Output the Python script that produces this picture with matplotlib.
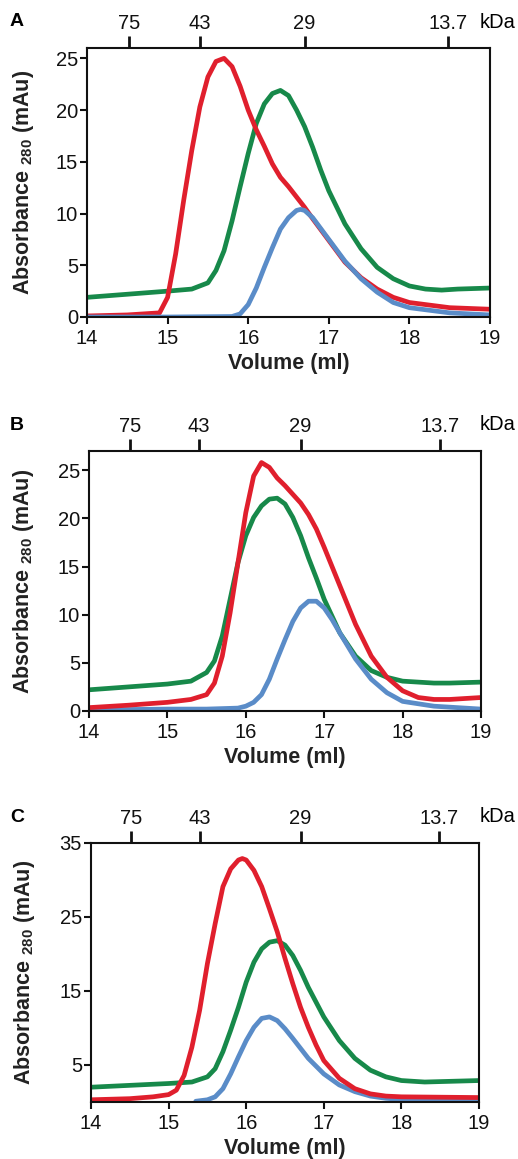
import numpy as np
import matplotlib
matplotlib.use("Agg")
import matplotlib.pyplot as plt

plt.rcParams['font.family'] = ['Liberation Sans', 'DejaVu Sans']
plt.rcParams['mathtext.fontset'] = 'custom'
plt.rcParams['mathtext.rm'] = 'Liberation Sans'
plt.rcParams['mathtext.bf'] = 'Liberation Sans:bold'

# marcatori di peso molecolare (asse superiore)
kda_pos = [14.52, 15.40, 16.70, 18.48]
kda_labels = ['75', '43', '29', '13.7']

# ---- pannello A ----
a_red_x = [14.0, 14.5, 14.9, 15.0, 15.1, 15.2, 15.3, 15.4, 15.5, 15.6, 15.7, 15.8, 15.9, 16.0,
           16.1, 16.2, 16.3, 16.4, 16.5, 16.6, 16.7, 16.8, 17.0, 17.2, 17.4, 17.6, 17.8, 18.0,
           18.5, 19.0]
a_red_y = [0.1, 0.2, 0.4, 1.9, 6.1, 11.3, 16.1, 20.3, 23.2, 24.7, 25.0, 24.2, 22.3, 20.0,
           18.1, 16.5, 14.8, 13.5, 12.6, 11.6, 10.6, 9.5, 7.4, 5.3, 3.8, 2.7, 1.9, 1.4,
           0.9, 0.75]
a_green_x = [14.0, 14.5, 15.0, 15.3, 15.5, 15.6, 15.7, 15.8, 15.9, 16.0, 16.1, 16.2, 16.3, 16.4,
             16.5, 16.6, 16.7, 16.8, 16.9, 17.0, 17.2, 17.4, 17.6, 17.8, 18.0, 18.2, 18.4, 18.6,
             19.0]
a_green_y = [1.9, 2.2, 2.5, 2.7, 3.3, 4.5, 6.4, 9.3, 12.6, 15.8, 18.7, 20.6, 21.6, 21.9,
             21.4, 20.0, 18.4, 16.4, 14.2, 12.2, 9.0, 6.6, 4.8, 3.7, 3.0, 2.7, 2.6, 2.7,
             2.8]
a_blue_x = [14.0, 15.0, 15.8, 15.9, 16.0, 16.1, 16.2, 16.3, 16.4, 16.5, 16.6, 16.65, 16.7, 16.8,
            17.0, 17.2, 17.4, 17.6, 17.8, 18.0, 18.5, 19.0]
a_blue_y = [0.0, 0.0, 0.05, 0.3, 1.2, 2.8, 4.8, 6.7, 8.5, 9.6, 10.3, 10.4, 10.3, 9.6,
            7.5, 5.4, 3.7, 2.4, 1.4, 0.9, 0.4, 0.2]

# ---- pannello B ----
b_red_x = [14.0, 14.5, 15.0, 15.3, 15.5, 15.6, 15.7, 15.8, 15.9, 16.0, 16.1, 16.2, 16.3, 16.4,
           16.5, 16.6, 16.7, 16.8, 16.9, 17.0, 17.2, 17.4, 17.6, 17.8, 18.0, 18.2, 18.4, 18.6,
           19.0]
b_red_y = [0.35, 0.6, 0.9, 1.2, 1.7, 2.9, 5.7, 10.2, 15.4, 20.6, 24.4, 25.8, 25.3, 24.2,
           23.4, 22.5, 21.6, 20.4, 18.9, 17.0, 13.0, 9.0, 5.7, 3.5, 2.1, 1.4, 1.2, 1.2,
           1.4]
b_green_x = [14.0, 14.5, 15.0, 15.3, 15.5, 15.6, 15.7, 15.8, 15.9, 16.0, 16.1, 16.2, 16.3, 16.4,
             16.5, 16.6, 16.7, 16.8, 16.9, 17.0, 17.2, 17.4, 17.6, 17.8, 18.0, 18.4, 18.6, 19.0]
b_green_y = [2.2, 2.5, 2.8, 3.1, 4.0, 5.2, 7.8, 11.6, 15.4, 18.2, 20.1, 21.3, 22.0, 22.1,
             21.5, 20.1, 18.2, 15.9, 13.8, 11.6, 8.1, 5.7, 4.2, 3.5, 3.1, 2.9, 2.9, 3.0]
b_blue_x = [14.0, 15.0, 15.5, 15.9, 16.0, 16.1, 16.2, 16.3, 16.4, 16.5, 16.6, 16.7, 16.8, 16.9,
            17.0, 17.1, 17.2, 17.4, 17.6, 17.8, 18.0, 18.4, 19.0]
b_blue_y = [0.1, 0.2, 0.2, 0.3, 0.5, 0.9, 1.7, 3.3, 5.4, 7.4, 9.3, 10.7, 11.4, 11.4,
            10.7, 9.5, 8.1, 5.4, 3.3, 1.9, 1.0, 0.5, 0.2]

# ---- pannello C ----
c_red_x = [14.0, 14.5, 14.8, 15.0, 15.1, 15.2, 15.3, 15.4, 15.5, 15.6, 15.7, 15.8, 15.9, 15.95,
           16.0, 16.1, 16.2, 16.3, 16.4, 16.5, 16.6, 16.7, 16.8, 16.9, 17.0, 17.2, 17.4, 17.6,
           17.8, 18.0, 19.0]
c_red_y = [0.3, 0.45, 0.7, 1.0, 1.6, 3.6, 7.4, 12.4, 18.7, 24.1, 29.1, 31.5, 32.7, 32.9,
           32.7, 31.3, 29.1, 26.1, 23.0, 19.4, 16.0, 12.8, 10.1, 7.7, 5.6, 3.2, 1.8, 1.1,
           0.8, 0.7, 0.6]
c_green_x = [14.0, 14.5, 15.0, 15.3, 15.5, 15.6, 15.7, 15.8, 15.9, 16.0, 16.1, 16.2, 16.3, 16.4,
             16.5, 16.6, 16.7, 16.8, 17.0, 17.2, 17.4, 17.6, 17.8, 18.0, 18.3, 19.0]
c_green_y = [2.0, 2.25, 2.5, 2.7, 3.4, 4.5, 6.8, 9.7, 12.8, 16.2, 18.9, 20.7, 21.6, 21.8,
             21.2, 19.8, 17.8, 15.5, 11.5, 8.3, 5.9, 4.3, 3.4, 2.9, 2.7, 2.9]
c_blue_x = [15.35, 15.5, 15.6, 15.7, 15.8, 15.9, 16.0, 16.1, 16.2, 16.3, 16.4, 16.5, 16.6, 16.8,
            17.0, 17.2, 17.4, 17.6, 17.8, 18.0, 18.5, 19.0]
c_blue_y = [0.1, 0.3, 0.7, 1.8, 3.8, 6.1, 8.3, 10.1, 11.3, 11.5, 11.0, 9.9, 8.6, 5.9,
            3.8, 2.3, 1.4, 0.8, 0.5, 0.35, 0.2, 0.1]

RED = '#e01f2d'
GREEN = '#17894a'
BLUE = '#5a8cc8'

W, H = 518, 1159
fig = plt.figure(figsize=(W / 100, H / 100), dpi=100)

# (sinistra, destra, alto, basso) in pixel
panels = [
    ('A', (87, 490, 48, 317), 26, [0, 5, 10, 15, 20, 25],
     [(a_green_x, a_green_y, GREEN), (a_red_x, a_red_y, RED), (a_blue_x, a_blue_y, BLUE)]),
    ('B', (89, 481, 451, 711), 27, [0, 5, 10, 15, 20, 25],
     [(b_green_x, b_green_y, GREEN), (b_blue_x, b_blue_y, BLUE), (b_red_x, b_red_y, RED)]),
    ('C', (91, 479, 843, 1102), 35, [5, 15, 25, 35],
     [(c_green_x, c_green_y, GREEN), (c_blue_x, c_blue_y, BLUE), (c_red_x, c_red_y, RED)]),
]

for letter, (l, r, t, b), ytop, yticks, series in panels:
    ax = fig.add_axes([l / W, 1 - b / H, (r - l) / W, (b - t) / H])
    for xs, ys, col in series:
        ax.plot(xs, ys, color=col, lw=3.4, solid_capstyle='round', solid_joinstyle='round')
    ax.set_xlim(14, 19)
    ax.set_ylim(0, ytop)
    ax.set_xticks([14, 15, 16, 17, 18, 19])
    ax.set_yticks(yticks)
    for s in ax.spines.values():
        s.set_linewidth(1.5)
        s.set_color('#111111')
    ax.tick_params(direction='out', length=5, width=1.5, labelsize=14.5, pad=1.5, colors='#111111')
    ax.tick_params(axis='x', pad=3.5)
    ax.set_xlabel('Volume (ml)', fontsize=15.5, fontweight='bold', color='#222222')
    ax.xaxis.set_label_coords(0.5, -(36 / (b - t)))
    ax.set_ylabel(r'Absorbance $\mathbf{_{280}}$ (mAu)', fontsize=15.5, fontweight='bold',
                  color='#222222', va='center')
    ax.yaxis.set_label_coords((24 - l) / (r - l), 0.5)

    top = ax.secondary_xaxis('top')
    top.set_xticks(kda_pos)
    top.set_xticklabels(kda_labels)
    top.tick_params(direction='out', length=9, width=2, labelsize=14.5, pad=2, colors='#111111')
    top.spines['top'].set_visible(False)

    fig.text(498 / W, 1 - (t - 26) / H, 'kDa', fontsize=14.5, ha='center', va='center')
    fig.text(17 / W, 1 - (t - 26) / H, letter, fontsize=14, fontweight='bold',
             ha='center', va='center')

fig.savefig('out.png', dpi=100)
